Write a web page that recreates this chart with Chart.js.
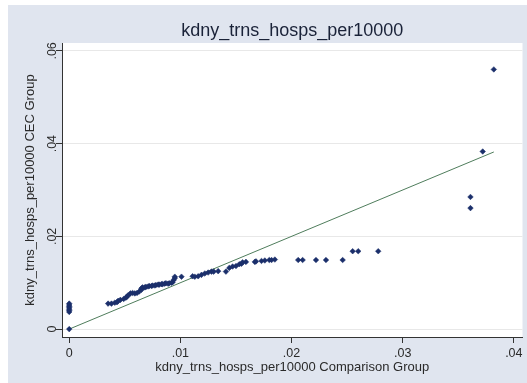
<!DOCTYPE html>
<html>
<head>
<meta charset="utf-8">
<script src="https://cdn.jsdelivr.net/npm/chart.js@4/dist/chart.umd.min.js"></script>
<style>
  body { margin: 0; background: #fff; }
  #wrap { position: absolute; left: 8px; top: 5px; width: 519px; height: 378px; background: #e0e5ef; }
</style>
</head>
<body>
<div id="wrap"><canvas id="scatter-chart" width="519" height="378"></canvas></div>
<script>
// kdny_trns_hosps_per10000: comparison group (x) vs CEC group (y)
const comparisonGroup = [
  0, 0, 0, 0, 0, 0, 0, 0,
  0.0035, 0.0038, 0.0041, 0.0043, 0.0044, 0.0046, 0.0049, 0.0051, 0.0052, 0.0053,
  0.0055, 0.0057, 0.0059, 0.0061, 0.0063, 0.0065, 0.0065, 0.0066, 0.0068, 0.0069,
  0.0071, 0.0072, 0.0074, 0.0075, 0.0077, 0.0078, 0.0080, 0.0081, 0.0083, 0.0084,
  0.0086, 0.0087, 0.0089, 0.0090, 0.0092, 0.0093, 0.0094, 0.0095, 0.0095, 0.0101,
  0.0111, 0.0113, 0.0116, 0.0119, 0.0122, 0.0125, 0.0128, 0.0130, 0.0134, 0.0141,
  0.0144, 0.0147, 0.0150, 0.0153, 0.0155, 0.0156, 0.0159, 0.0167, 0.0168, 0.0173,
  0.0176, 0.0180, 0.0182, 0.0185,
  0.0206, 0.0210, 0.0222, 0.0231, 0.0246, 0.0255, 0.0260, 0.0278,
  0.0361, 0.0361, 0.0372, 0.0382
];
const cecGroup = [
  0, 0.0037, 0.0040, 0.0043, 0.0046, 0.0049, 0.0052, 0.0055,
  0.0055, 0.0055, 0.0057, 0.0058, 0.0061, 0.0063, 0.0065, 0.0068, 0.0070, 0.0073,
  0.0077, 0.0078, 0.0077, 0.0078, 0.0081, 0.0085, 0.0088, 0.0090, 0.0090, 0.0091,
  0.0092, 0.0093, 0.0093, 0.0094, 0.0094, 0.0095, 0.0096, 0.0096, 0.0097, 0.0097,
  0.0098, 0.0099, 0.0098, 0.0099, 0.0100, 0.0101, 0.0106, 0.0110, 0.0113, 0.0113,
  0.0114, 0.0113, 0.0114, 0.0117, 0.0120, 0.0122, 0.0124, 0.0124, 0.0125, 0.0124,
  0.0132, 0.0135, 0.0136, 0.0140, 0.0141, 0.0144, 0.0145, 0.0145, 0.0146, 0.0147,
  0.0148, 0.0149, 0.0149, 0.0150,
  0.0149, 0.0149, 0.0149, 0.0149, 0.0149, 0.0168, 0.0168, 0.0168,
  0.0261, 0.0285, 0.0383, 0.0560
];
// line of equality
const lineX = [0, 0.0382];
const lineY = [0, 0.0382];
const xTicks = [0, 0.01, 0.02, 0.03, 0.04];
const yTicks = [0, 0.02, 0.04, 0.06];

const fmt = v => (v === 0 ? '0' : String(+v.toFixed(2)).replace(/^0/, ''));

const plotBg = {
  id: 'plotBg',
  beforeDraw(chart) {
    const { ctx, chartArea: a } = chart;
    ctx.save();
    ctx.fillStyle = '#ffffff';
    ctx.fillRect(a.left, a.top, a.right - a.left, a.bottom - a.top);
    ctx.restore();
  }
};

new Chart(document.getElementById('scatter-chart'), {
  type: 'scatter',
  data: {
    datasets: [
      {
        label: 'CEC Group',
        data: comparisonGroup.map((x, i) => ({ x: x, y: cecGroup[i] })),
        pointStyle: 'rectRot',
        pointRadius: 2.8,
        backgroundColor: '#1b2f6b',
        borderColor: '#1b2f6b',
        borderWidth: 0.5,
        order: 0
      },
      {
        type: 'line',
        label: 'y = x',
        data: lineX.map((x, i) => ({ x: x, y: lineY[i] })),
        borderColor: '#4f7d5c',
        borderWidth: 1,
        pointRadius: 0,
        fill: false,
        order: 1
      }
    ]
  },
  options: {
    responsive: false,
    animation: false,
    layout: { padding: { left: 0, right: 3, top: 0, bottom: 0 } },
    plugins: {
      legend: { display: false },
      tooltip: { enabled: false },
      title: {
        display: true,
        fullSize: false,
        text: 'kdny_trns_hosps_per10000',
        color: '#1a2238',
        font: { family: 'Arial, "Liberation Sans", sans-serif', size: 18, weight: 'normal' },
        padding: { top: 15, bottom: 1.4 }
      }
    },
    scales: {
      x: {
        type: 'linear',
        min: -0.00065,
        max: 0.04078,
        afterBuildTicks: s => { s.ticks = xTicks.map(v => ({ value: v })); },
        afterFit: s => { s.height = 46; },
        grid: { drawOnChartArea: false, tickColor: '#333', tickLength: 6 },
        border: { color: '#333' },
        ticks: {
          color: '#2a2a2a',
          padding: 3,
          maxRotation: 0,
          font: { family: 'Arial, "Liberation Sans", sans-serif', size: 12.5 },
          callback: v => fmt(v)
        },
        title: {
          display: true,
          text: 'kdny_trns_hosps_per10000 Comparison Group',
          color: '#2a2a2a',
          font: { family: 'Arial, "Liberation Sans", sans-serif', size: 13 },
          padding: { top: 0, bottom: 8 }
        }
      },
      y: {
        type: 'linear',
        min: -0.0017,
        max: 0.0617,
        afterBuildTicks: s => { s.ticks = yTicks.map(v => ({ value: v })); },
        afterFit: s => { s.width = 54; },
        grid: { color: '#e8e8e8', tickColor: '#333', tickLength: 6 },
        border: { color: '#333' },
        ticks: {
          color: '#2a2a2a',
          padding: -5,
          minRotation: 90,
          maxRotation: 90,
          crossAlign: 'center',
          font: { family: 'Arial, "Liberation Sans", sans-serif', size: 12.5 },
          callback: v => fmt(v)
        },
        title: {
          display: true,
          text: 'kdny_trns_hosps_per10000 CEC Group',
          color: '#2a2a2a',
          font: { family: 'Arial, "Liberation Sans", sans-serif', size: 13 },
          padding: { top: 15, bottom: 0 }
        }
      }
    }
  },
  plugins: [plotBg]
});
</script>
</body>
</html>
